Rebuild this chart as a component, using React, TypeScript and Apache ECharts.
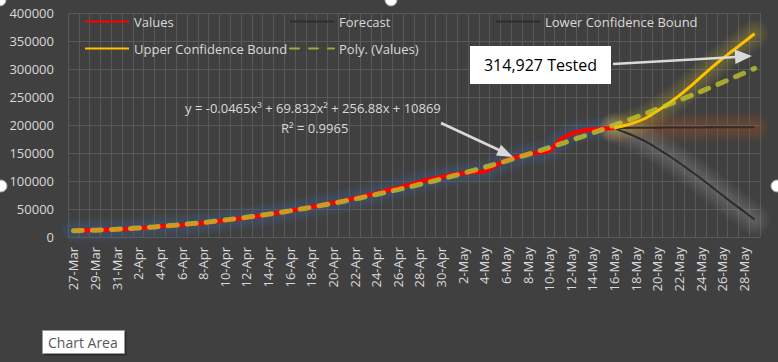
import React, { useEffect, useRef } from "react";
import * as echarts from "echarts";

const categories = [
  "27-Mar", "28-Mar", "29-Mar", "30-Mar", "31-Mar",
  "1-Apr", "2-Apr", "3-Apr", "4-Apr", "5-Apr", "6-Apr", "7-Apr", "8-Apr", "9-Apr", "10-Apr",
  "11-Apr", "12-Apr", "13-Apr", "14-Apr", "15-Apr", "16-Apr", "17-Apr", "18-Apr", "19-Apr", "20-Apr",
  "21-Apr", "22-Apr", "23-Apr", "24-Apr", "25-Apr", "26-Apr", "27-Apr", "28-Apr", "29-Apr", "30-Apr",
  "1-May", "2-May", "3-May", "4-May", "5-May", "6-May", "7-May", "8-May", "9-May", "10-May",
  "11-May", "12-May", "13-May", "14-May", "15-May", "16-May", "17-May", "18-May", "19-May", "20-May",
  "21-May", "22-May", "23-May", "24-May", "25-May", "26-May", "27-May", "28-May", "29-May",
];

// 27-Mar .. 16-May
const actualValues = [
  11500, 11800, 12300, 13000, 13500, 14300, 15500, 17000, 18900, 20000,
  21500, 23000, 24800, 27000, 29500, 32000, 34500, 37000, 40000, 43500,
  46500, 50000, 53500, 57500, 61000, 65000, 69000, 73500, 78000, 83000,
  88000, 93000, 98500, 103000, 107000, 111000, 114000, 115500, 117000, 127000,
  137000, 142500, 148000, 151000, 153500, 173000, 184000, 189500, 192000, 193500,
  194500,
];

// 16-May .. 29-May
const forecastValues = [
  194500, 194800, 195000, 195200, 195300, 195400, 195500, 195600, 195700, 195800,
  195900, 196000, 196000, 196100,
];
const upperBound = [
  194500, 199000, 205000, 213000, 225000, 238000, 252000, 268000, 285000, 302000,
  318000, 333000, 348000, 363000,
];
const lowerBound = [
  194500, 187000, 179000, 170000, 158000, 146000, 133000, 119000, 105000, 90000,
  75000, 60000, 46000, 31000,
];

// Poly. (Values) trendline, 27-Mar .. 29-May
const polyTrend = [
  11196, 11662, 12267, 13011, 13893, 14914, 16073, 17369, 18803, 20374,
  22083, 23927, 25908, 28025, 30278, 32666, 35189, 37847, 40640, 43567,
  46629, 49824, 53153, 56615, 60209, 63937, 67797, 71789, 75913, 80169,
  84556, 89073, 93722, 98501, 103410, 108450, 113618, 118916, 124343, 129899,
  135584, 141397, 147337, 153406, 159601, 165924, 172373, 178948, 185650, 192481,
  199434, 206514, 213719, 221048, 228503, 236081, 243784, 251610, 259560, 267633,
  275829, 284147, 292588, 301151,
];

const FONT = "'Open Sans', sans-serif";
const TXT = "#d9d9d9";

function padBefore(arr: number[], total: number) {
  const out: (number | null)[] = [];
  for (let i = 0; i < total - arr.length; i++) out.push(null);
  return out.concat(arr);
}
function padAfter(arr: number[], total: number) {
  const out: (number | null)[] = arr.slice();
  while (out.length < total) out.push(null);
  return out;
}

function glow(id: string, data: (number | null)[], color: string, maxW: number, step: number, opacity: number, smooth: number | boolean) {
  const out: any[] = [];
  let i = 0;
  for (let w = maxW; w >= 4; w -= step) {
    out.push({
      name: `${id}-glow-${i++}`,
      type: "line",
      data,
      symbol: "none",
      smooth,
      silent: true,
      lineStyle: { color, width: w, opacity, cap: "round", join: "round" },
      z: 1,
    });
  }
  return out;
}

export default function App() {
  const ref = useRef<HTMLDivElement>(null);
  useEffect(() => {
    if (!ref.current) return;
    const chart = echarts.init(ref.current, null, { renderer: "svg" });
    const n = categories.length;
    const valuesData = padAfter(actualValues, n);
    const forecastData = padBefore(forecastValues, n);
    const upperData = padBefore(upperBound, n);
    const lowerData = padBefore(lowerBound, n);
    const legendBase = {
      itemWidth: 44,
      itemHeight: 14,
      itemGap: 5,
      padding: 0,
      itemStyle: { opacity: 0 },
      textStyle: { color: TXT, fontSize: 13, fontFamily: FONT },
      selectedMode: false,
    };
    const G = 100;
    const option: any = {
      animation: false,
      backgroundColor: "#404040",
      grid: { left: 68, right: 18, top: 13, bottom: 125, containLabel: false },
      legend: [
        { ...legendBase, data: ["Values"], left: 84, top: 15 },
        { ...legendBase, data: ["Forecast"], left: 289, top: 15 },
        { ...legendBase, data: ["Lower Confidence Bound"], left: 495, top: 15 },
        { ...legendBase, data: ["Upper Confidence Bound"], left: 84, top: 42 },
        { ...legendBase, data: ["Poly. (Values)"], left: 289, top: 42 },
      ],
      xAxis: {
        type: "category",
        data: categories,
        boundaryGap: true,
        axisLine: { show: true, lineStyle: { color: "#595959" } },
        axisTick: { show: false },
        splitLine: { show: true, interval: 0, lineStyle: { color: "#595959", width: 1 } },
        axisLabel: {
          interval: 1,
          rotate: 90,
          color: TXT,
          fontSize: 13,
          fontFamily: FONT,
          margin: 10,
        },
      },
      yAxis: {
        type: "value",
        min: 0,
        max: 400000,
        interval: 50000,
        axisLine: { show: false },
        axisTick: { show: false },
        splitLine: { show: true, lineStyle: { color: "#595959", width: 1 } },
        axisLabel: {
          color: TXT,
          fontSize: 13,
          fontFamily: FONT,
          margin: 14,
          formatter: (v: number) => String(v),
        },
      },
      series: [
        ...glow("values", valuesData, "#4a70c0", 24, 4, 0.06, 0.3),
        ...glow("forecast", forecastData, "#c86a30", 30, 4, 0.05, false),
        ...glow("lower", lowerData, "#d0d0d0", 32, 4, 0.035, 0.3),
        ...glow("upper", upperData, "#e8d428", 28, 4, 0.045, 0.3),
        {
          name: "Values",
          type: "line",
          data: valuesData,
          symbol: "none",
          smooth: 0.3,
          itemStyle: { color: "#ff0000" },
          lineStyle: { color: "#ff0000", width: 4 },
          z: 3,
        },
        {
          name: "Forecast",
          type: "line",
          data: forecastData,
          symbol: "none",
          itemStyle: { color: "#333333" },
          lineStyle: { color: "#2e2e2e", width: 2 },
          z: 2,
        },
        {
          name: "Lower Confidence Bound",
          type: "line",
          data: lowerData,
          symbol: "none",
          smooth: 0.3,
          itemStyle: { color: "#333333" },
          lineStyle: { color: "#2c2c2c", width: 2 },
          z: 2,
        },
        {
          name: "Upper Confidence Bound",
          type: "line",
          data: upperData,
          symbol: "none",
          smooth: 0.3,
          itemStyle: { color: "#ffc000" },
          lineStyle: { color: "#ffc000", width: 3 },
          z: 3,
        },
        {
          name: "Poly. (Values)",
          type: "line",
          data: polyTrend,
          symbol: "none",
          smooth: true,
          itemStyle: { color: "rgb(170,175,45)" },
          lineStyle: {
            color: "rgba(198,204,40,0.74)",
            width: 5,
            type: [9, 10],
            cap: "round",
          },
          z: 4,
        },
      ],
      graphic: [
        {
          type: "text",
          left: 185,
          top: 101,
          z: G,
          style: {
            text: "y = -0.0465x³ + 69.832x² + 256.88x + 10869",
            fill: TXT,
            font: `13px ${FONT}`,
          },
        },
        {
          type: "text",
          left: 281,
          top: 121,
          z: G,
          style: { text: "R² = 0.9965", fill: TXT, font: `13px ${FONT}` },
        },
        {
          type: "line",
          z: G,
          shape: { x1: 441, y1: 123, x2: 499, y2: 150 },
          style: { stroke: "#d9d9d9", lineWidth: 2.5 },
        },
        {
          type: "polygon",
          z: G,
          shape: { points: [[513, 157], [496, 155.6], [501, 144.8]] },
          style: { fill: "#d9d9d9" },
        },
        {
          type: "rect",
          z: G,
          shape: { x: 470, y: 46, width: 141, height: 38 },
          style: { fill: "#ffffff" },
        },
        {
          type: "text",
          z: G + 1,
          x: 540.5,
          y: 65,
          style: {
            text: "314,927 Tested",
            fill: "#000000",
            font: `16px ${FONT}`,
            align: "center",
            verticalAlign: "middle",
          },
        },
        {
          type: "line",
          z: G,
          shape: { x1: 613, y1: 64, x2: 736, y2: 57 },
          style: { stroke: "#d9d9d9", lineWidth: 2.5 },
        },
        {
          type: "polygon",
          z: G,
          shape: { points: [[752, 56], [735.4, 64], [734.6, 49.5]] },
          style: { fill: "#d9d9d9" },
        },
        {
          type: "rect",
          z: G,
          shape: { x: 44.5, y: 332.5, width: 82, height: 23 },
          style: { fill: "rgba(0,0,0,0.35)" },
        },
        {
          type: "rect",
          z: G + 1,
          shape: { x: 42.5, y: 330.5, width: 82, height: 23 },
          style: { fill: "#ffffff", stroke: "#9a9a9a", lineWidth: 1 },
        },
        {
          type: "text",
          z: G + 2,
          x: 48,
          y: 342,
          style: {
            text: "Chart Area",
            fill: "#595959",
            font: `14px ${FONT}`,
            verticalAlign: "middle",
          },
        },
        { type: "circle", z: G, shape: { cx: 0, cy: 0, r: 6 }, style: { fill: "#ffffff", stroke: "#9a9a9a", lineWidth: 1 } },
        { type: "circle", z: G, shape: { cx: 391, cy: 0, r: 6 }, style: { fill: "#ffffff", stroke: "#9a9a9a", lineWidth: 1 } },
        { type: "circle", z: G, shape: { cx: 1, cy: 186, r: 6 }, style: { fill: "#ffffff", stroke: "#9a9a9a", lineWidth: 1 } },
        { type: "circle", z: G, shape: { cx: 777, cy: 186, r: 6 }, style: { fill: "#ffffff", stroke: "#9a9a9a", lineWidth: 1 } },
      ],
    };
    chart.setOption(option);
    return () => chart.dispose();
  }, []);
  return (
    <div
      ref={ref}
      style={{ position: "fixed", left: 0, top: 0, width: 778, height: 362 }}
    />
  );
}
